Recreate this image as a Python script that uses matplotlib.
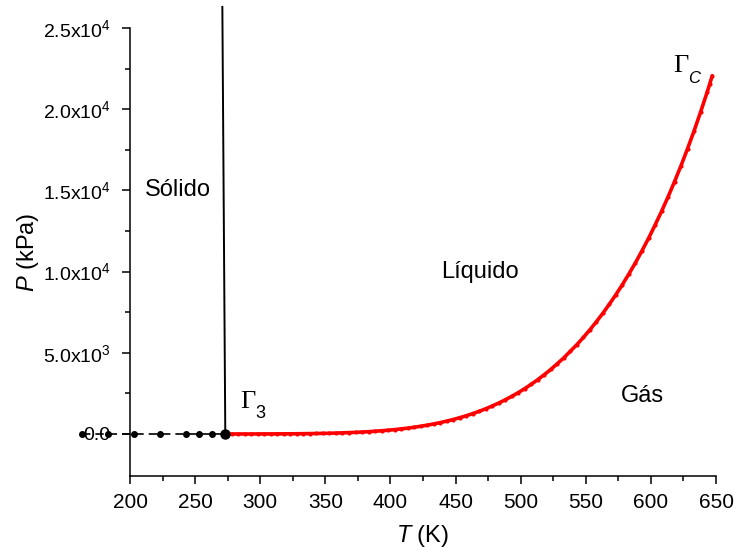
import matplotlib
matplotlib.use('Agg')
import matplotlib.pyplot as plt

plt.rcParams['font.family'] = ['Liberation Sans', 'DejaVu Sans']
plt.rcParams['mathtext.fontset'] = 'custom'
plt.rcParams['mathtext.rm'] = 'Liberation Sans'
plt.rcParams['mathtext.it'] = 'Liberation Sans:italic'

# ice sublimation curve (K, kPa)
sub_T = [163.15, 183.15, 203.15, 223.15, 243.15, 253.15, 263.15, 273.16]
sub_P = [1.5e-7, 9.4e-6, 2.6e-4, 3.9e-3, 0.038, 0.103, 0.260, 0.6117]

# melting line from the triple point upward (K, kPa)
melt_T = [273.16, 270.9]
melt_P = [0.6117, 26300.0]

# liquid-vapour saturation curve (K, kPa)
vap_T = [273.16, 278.15, 283.15, 288.15, 293.15, 298.15, 303.15, 308.15,
         313.15, 318.15, 323.15, 328.15, 333.15, 338.15, 343.15, 348.15,
         353.15, 358.15, 363.15, 368.15, 373.15, 378.15, 383.15, 388.15,
         393.15, 398.15, 403.15, 408.15, 413.15, 418.15, 423.15, 428.15,
         433.15, 438.15, 443.15, 448.15, 453.15, 458.15, 463.15, 468.15,
         473.15, 478.15, 483.15, 488.15, 493.15, 498.15, 503.15, 508.15,
         513.15, 518.15, 523.15, 528.15, 533.15, 538.15, 543.15, 548.15,
         553.15, 558.15, 563.15, 568.15, 573.15, 578.15, 583.15, 588.15,
         593.15, 598.15, 603.15, 608.15, 613.15, 618.15, 623.15, 628.15,
         633.15, 638.15, 643.15, 645.15, 647.10]
vap_P = [0.6117, 0.8725, 1.228, 1.706, 2.339, 3.170, 4.247, 5.629,
         7.385, 9.595, 12.35, 15.76, 19.95, 25.04, 31.20, 38.60,
         47.41, 57.87, 70.18, 84.61, 101.42, 120.90, 143.38, 169.18,
         198.67, 232.23, 270.28, 313.22, 361.54, 415.68, 476.16, 543.49,
         618.23, 700.93, 792.19, 892.60, 1002.8, 1123.5, 1255.2, 1398.8,
         1554.9, 1724.3, 1907.7, 2106.0, 2319.6, 2550.9, 2797.1, 3065.3,
         3346.9, 3657.0, 3976.2, 4333.1, 4692.3, 5101.1, 5503.0, 5946.4,
         6416.6, 6917.2, 7441.8, 8001.1, 8587.9, 9204.6, 9865.1, 10548.0,
         11284.0, 12047.0, 12858.0, 13707.0, 14601.0, 15545.0, 16529.0, 17574.0,
         18666.0, 19830.0, 21044.0, 21554.0, 22064.0]

x_major = [200, 250, 300, 350, 400, 450, 500, 550, 600, 650]
x_minor = [225, 275, 325, 375, 425, 475, 525, 575, 625]
y_major = [0, 5000, 10000, 15000, 20000, 25000]
y_minor = [2500, 7500, 12500, 17500, 22500]
y_labels = ['0.0', '5.0x10$^3$', '1.0x10$^4$', '1.5x10$^4$',
            '2.0x10$^4$', '2.5x10$^4$']

fig = plt.figure(figsize=(7.35, 5.48), dpi=100)
ax = fig.add_axes([0.1769, 0.1314, 0.7973, 0.8175])
ax.spines['top'].set_visible(False)
ax.spines['right'].set_visible(False)
for s in ('left', 'bottom'):
    ax.spines[s].set_linewidth(1.1)

ax.plot(vap_T, vap_P, color='#ff0000', lw=2.6, marker='o', ms=3.0,
        mec='none', solid_capstyle='round', zorder=3)
ax.plot(melt_T, melt_P, color='black', lw=1.4, clip_on=False, zorder=4)
ax.plot(sub_T, sub_P, color='black', lw=1.2, ls=(0, (5, 3)),
        marker='o', ms=4, clip_on=False, zorder=4)
ax.plot(sub_T[-1:], sub_P[-1:], 'o', color='black', ms=6.5,
        clip_on=False, zorder=5)

ax.set_xlim(200, 650)
ax.set_ylim(-2586, 25000)
ax.set_xticks(x_major)
ax.set_xticks(x_minor, minor=True)
ax.set_yticks(y_major)
ax.set_yticks(y_minor, minor=True)
ax.set_yticklabels(y_labels)
ax.tick_params(which='major', direction='out', length=6, width=1.1)
ax.tick_params(axis='x', which='major', pad=6, labelsize=15)
ax.tick_params(axis='y', which='major', pad=8, labelsize=14)
ax.tick_params(which='minor', direction='out', length=3.5, width=1.1)

ax.set_xlabel('$\\it{T}$ (K)', fontsize=17, labelpad=8)
ax.set_ylabel('$\\it{P}$ (kPa)', fontsize=17, labelpad=1)

ax.text(236.9, 15025, 'Sólido', fontsize=17, ha='center', va='center')
ax.text(468.8, 9975, 'Líquido', fontsize=17, ha='center', va='center')
ax.text(593.2, 2340, 'Gás', fontsize=17, ha='center', va='center')

ax.text(284.5, 1600, 'Γ', fontsize=19, family='Liberation Serif',
        ha='left', va='baseline')
ax.text(296.0, 985, '3', fontsize=13, ha='left', va='baseline')
ax.text(617.1, 22290, 'Γ', fontsize=19, family='Liberation Serif',
        ha='left', va='baseline')
ax.text(628.6, 21613, 'C', fontsize=12, style='italic',
        ha='left', va='baseline')

fig.savefig('out.png', dpi=100)
